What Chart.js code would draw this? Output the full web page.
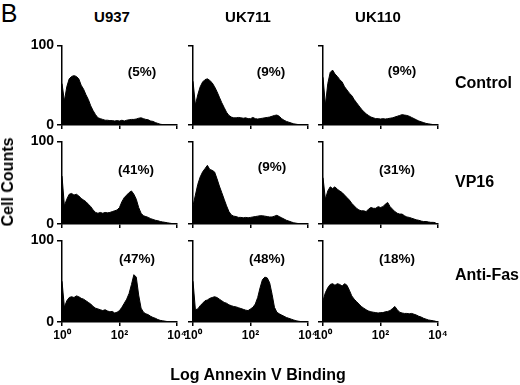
<!DOCTYPE html>
<html>
<head>
<meta charset="utf-8">
<script src="https://cdn.jsdelivr.net/npm/chart.js@4.4.1/dist/chart.umd.min.js"></script>
<style>
  html, body { margin: 0; padding: 0; background: #fff; }
  #fig { position: relative; width: 520px; height: 385px; overflow: hidden; background: #fff;
         font-family: "Liberation Sans", Arial, sans-serif; color: #000; }
  #fig canvas { position: absolute; }
  .lbl { position: absolute; font-weight: bold; white-space: nowrap; transform: translate(-50%, -50%); }
  .row { position: absolute; font-weight: bold; font-size: 16px; white-space: nowrap; transform: translateY(-50%); }
</style>
</head>
<body>
<div id="fig"></div>
<script>
// cell lines (columns) and treatments (rows)
const cellLines = ["U937", "UK711", "UK110"];
const treatments = ["Control", "VP16", "Anti-Fas"];
// % annexin V positive, [row][col]
const apoptosisPct = [[5, 9, 9], [41, 9, 31], [47, 48, 18]];
const xTickLabels = ["10\u2070", "10\u00b2", "10\u2074"];
const yTickValues = [0, 100];

// histogram counts, 48 bins over 4 log decades (12 per decade)
const u937Control = [52, 30, 48, 58, 61, 62, 61, 58, 50, 45, 38, 32, 24, 18, 13, 9, 8, 7, 6, 6, 5.5, 5.5, 5, 5.5,
  5, 6, 5, 6, 6.5, 7, 7, 7.5, 8.5, 9, 8, 7, 6.5, 5, 4.5, 3, 2, 1, 0.5, 0, 0, 0, 0, 0];
const uk711Control = [55, 25, 38, 48, 54, 57, 58, 56, 53, 48, 42, 35, 28, 22, 16, 12, 10, 9, 9, 9.5, 9, 8.5, 9, 8,
  8, 9.5, 8, 7.5, 8, 8.5, 9, 9.5, 10, 11, 12, 12.5, 11, 8, 6, 4.5, 3.5, 2.5, 1.5, 1, 0.5, 0, 0, 0];
const uk110Control = [60, 25, 52, 66, 69, 64, 61, 57, 54, 48, 44, 40, 37, 32, 28, 24, 20, 17, 14, 12, 10, 9, 8, 8,
  7.5, 8, 7.5, 8, 8.5, 9, 10, 11, 12, 13, 12.5, 12, 11, 9.5, 8, 6.5, 5, 4, 3, 2, 1.5, 1, 0.5, 0];

const u937Vp16 = [58, 22, 30, 36, 37, 35, 36, 34, 31, 29, 27, 24, 21, 17, 14, 13, 14, 13, 14, 13.5, 14, 15, 16, 17,
  20, 27, 32, 35, 38, 40, 36, 30, 20, 13, 10, 9, 8, 6.5, 5.5, 4.5, 4, 3, 2.5, 2, 1.5, 1, 0.5, 0];
const uk711Vp16 = [22, 35, 48, 57, 63, 67, 71, 66, 65, 63, 55, 46, 38, 30, 22, 15, 11, 9.5, 9, 8, 8, 7.5, 8, 7.5,
  8, 8.5, 9, 9.5, 10, 10, 9.5, 9, 8.5, 8.5, 9.5, 10.5, 9, 7.5, 6, 4.5, 3.5, 2.5, 1.5, 1, 0.5, 0, 0, 0];
const uk110Vp16 = [56, 30, 40, 45, 43, 45, 42, 40, 38, 35, 32, 29, 25, 22, 19, 17, 16, 16, 15, 18, 20, 19, 19, 21,
  20, 21, 24, 26, 21, 18, 15, 13, 12, 12, 10, 8.5, 8, 7, 6, 5, 4.5, 3.5, 3, 3, 2.5, 2, 2, 1.5];

const u937AntiFas = [50, 18, 26, 30, 31, 30, 32, 31, 29, 28, 26, 24, 22, 19, 17, 16, 15, 14, 15, 13.5, 12.5, 13, 11, 12,
  14, 18, 23, 28, 35, 46, 58, 55, 33, 17, 12, 10, 9, 7, 5.5, 4.5, 3, 2, 1.5, 1, 0.5, 0, 0, 0];
const uk711AntiFas = [50, 15, 16, 20, 23, 26, 27, 29, 30, 31, 30, 28, 26, 24, 23, 21, 20, 19, 18.5, 17.5, 16.5, 15.5, 14.5, 14,
  16, 18, 22, 30, 42, 52, 55, 54, 48, 34, 18, 12, 10, 8.5, 7, 5.5, 4.5, 3.5, 2.5, 1.5, 1, 0.5, 0, 0];
const uk110AntiFas = [26, 36, 42, 46, 47, 45, 47, 46, 44, 47, 45, 39, 32, 28, 25, 22, 19, 17, 15, 13.5, 12.5, 12, 11.5, 11,
  11.5, 11.5, 12.5, 13, 14, 16.5, 19, 15, 12, 11, 10.5, 10.5, 10, 10.5, 9.5, 8.5, 7, 6, 4.5, 3.5, 2.5, 2, 1.5, 1];

const histograms = [
  [u937Control, uk711Control, uk110Control],
  [u937Vp16, uk711Vp16, uk110Vp16],
  [u937AntiFas, uk711AntiFas, uk110AntiFas]
];

const fig = document.getElementById("fig");
const font = "Liberation Sans";

// plot area geometry
const colLeft = [62, 193, 323];
const plotW = 115;
const rowTop = [42, 138, 237];
const rowH = [83, 86, 85];
const padL = 50, padR = 12, padT = 8, padB = 30;

histograms.forEach((row, r) => {
  row.forEach((counts, c) => {
    const cv = document.createElement("canvas");
    const w = padL + plotW + padR;
    const h = padT + rowH[r] + padB;
    cv.width = w; cv.height = h;
    cv.style.left = (colLeft[c] - padL) + "px";
    cv.style.top = (rowTop[r] - padT) + "px";
    fig.appendChild(cv);

    const pts = counts.map((v, i) => ({ x: i / 12, y: v }));
    const showY = c === 0;
    const showX = r === 2;

    new Chart(cv, {
      type: "line",
      data: {
        datasets: [{
          data: pts,
          borderColor: "#000",
          backgroundColor: "#000",
          borderWidth: 1,
          fill: "origin",
          pointRadius: 0,
          tension: 0
        }]
      },
      options: {
        responsive: false,
        animation: false,
        events: [],
        layout: { padding: { top: padT, right: padR, left: 0, bottom: 0 } },
        plugins: { legend: { display: false }, tooltip: { enabled: false } },
        scales: {
          x: {
            type: "linear", min: 0, max: 4,
            afterBuildTicks: (s) => { s.ticks = [{ value: 0 }, { value: 2 }, { value: 4 }]; },
            afterFit: (s) => { s.height = padB; },
            ticks: {
              color: "#000", padding: 2, maxRotation: 0,
              font: { family: font, size: 12, weight: "bold" },
              callback: (v) => showX ? xTickLabels[v / 2] : ""
            },
            grid: { drawOnChartArea: false, drawTicks: true, tickLength: 4, color: "#000", lineWidth: 1.5 },
            border: { color: "#000", width: 1.5 }
          },
          y: {
            min: 0, max: 100,
            afterBuildTicks: (s) => { s.ticks = yTickValues.map((v) => ({ value: v })); },
            afterFit: (s) => { s.width = padL; },
            ticks: {
              color: "#000", padding: 3,
              font: { family: font, size: 14, weight: "bold" },
              callback: (v) => showY ? String(v) : ""
            },
            grid: { drawOnChartArea: false, drawTicks: true, tickLength: 5, color: "#000", lineWidth: 1.5 },
            border: { color: "#000", width: 1.5 }
          }
        }
      }
    });
  });
});

function addText(cls, text, x, y, size, extra) {
  const d = document.createElement("div");
  d.className = cls;
  d.textContent = text;
  d.style.left = x + "px";
  d.style.top = y + "px";
  if (size) d.style.fontSize = size + "px";
  if (extra) Object.assign(d.style, extra);
  fig.appendChild(d);
}

// panel letter
addText("lbl", "B", 9, 13, 25, { fontWeight: "normal" });

// column titles
const titleX = [112, 248, 378];
cellLines.forEach((t, i) => addText("lbl", t, titleX[i], 16, 15));

// row labels
const rowY = [83, 182, 275];
treatments.forEach((t, i) => addText("row", t, 455, rowY[i]));

// percentages
const pctX = [[142, 271, 402], [136, 272, 397], [137, 267, 397]];
const pctY = [[71, 71, 70], [169, 166, 169], [258, 258, 258]];
apoptosisPct.forEach((row, r) => row.forEach((p, c) =>
  addText("lbl", "(" + p + "%)", pctX[r][c], pctY[r][c], 13.5)));

// axis titles
addText("lbl", "Cell Counts", 8, 182, 16, { transform: "translate(-50%, -50%) rotate(-90deg)" });
addText("lbl", "Log Annexin V Binding", 258, 375, 16);
</script>
</body>
</html>
